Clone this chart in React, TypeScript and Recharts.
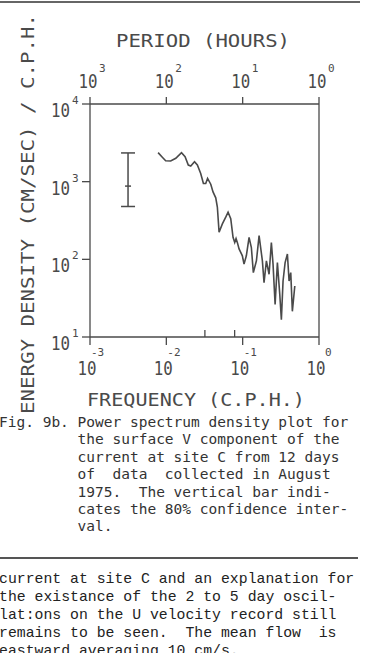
import React from 'react';
import {
    ComposedChart,
    Line,
    Scatter,
    ErrorBar,
    XAxis,
    YAxis,
} from 'recharts';

// spectrum (frequency in c.p.h., energy density)
const freq: number[] = [
    0.0078, 0.0088, 0.0098, 0.0114, 0.0133, 0.0158, 0.0176, 0.0194, 0.0209, 0.0234,
    0.0255, 0.0282, 0.0306, 0.0328, 0.0347, 0.0382, 0.0409, 0.0444, 0.0466, 0.0491,
    0.0542, 0.0600, 0.0644, 0.0698, 0.0748, 0.0787, 0.0819, 0.0853, 0.0897, 0.0991,
    0.1042, 0.1117, 0.1213, 0.1300, 0.1380, 0.1514, 0.1641, 0.1813, 0.1905, 0.2046,
    0.2218, 0.2377, 0.2500, 0.2661, 0.2851, 0.3063, 0.3214, 0.3381, 0.3597, 0.3855,
    0.4055, 0.4266, 0.4477, 0.4819,
];
const energy: number[] = [
    2366, 2080, 1862, 1845, 2000, 2366, 2099, 1638, 1589, 1808,
    1638, 1277, 948, 948, 1101, 928, 738, 620, 471, 223,
    286, 349, 405, 333, 192, 165, 185, 164, 136, 111,
    86.7, 111, 192, 142, 67.4, 95.7, 202, 95.7, 50, 95.7,
    64.3, 165, 86.7, 26.2, 90.8, 35.3, 16.7, 52.6, 90.8, 117,
    52.6, 67.4, 21.4, 45.3,
];

// 80% confidence bar
const confFreq = [0.00315];
const confMid = [877];
const confLow = [479];
const confHigh = [2344];

const decadeTicksX = [0.001, 0.01, 0.1, 1];
const decadeTicksY = [10, 100, 1000, 10000];
const markTicks = [0.032, 0.0785];

const captionLines = [
    'Fig. 9b. Power spectrum density plot for',
    '         the surface V component of the',
    '         current at site C from 12 days',
    '         of  data  collected in August',
    '         1975.  The vertical bar indi-',
    '         cates the 80% confidence inter-',
    '         val.',
];
const bodyLines = [
    'current at site C and an explanation for',
    'the existance of the 2 to 5 day oscil-',
    'lat:ons on the U velocity record still',
    'remains to be seen.  The mean flow  is',
    'eastward averaging 10 cm/s.',
];

const spectrum = freq.map((f, i) => ({ f, e: energy[i] }));
const confData = confFreq.map((f, i) => ({
    f,
    e: confMid[i],
    err: [confMid[i] - confLow[i], confHigh[i] - confMid[i]],
}));

const INK = '#4a4a4a';
const PLOT_FONT = '"DejaVu Sans Mono", monospace';

const BottomTick = (props: any) => {
    const { x, y, payload } = props;
    const exp = Math.round(Math.log10(payload.value));
    return (
        <g fill={INK} fontFamily={PLOT_FONT}>
            <text x={x - 3} y={y + 28} textAnchor="middle" fontSize={20} textLength={19} lengthAdjust="spacingAndGlyphs">10</text>
            <text x={exp < 0 ? x + 1 : x + 6} y={y + 9} fontSize={11}>{String(exp)}</text>
        </g>
    );
};

const TopTick = (props: any) => {
    const { x, y, payload } = props;
    const exp = Math.round(-Math.log10(payload.value));
    return (
        <g fill={INK} fontFamily={PLOT_FONT}>
            <text x={x - 2} y={y - 7} textAnchor="middle" fontSize={20} textLength={19} lengthAdjust="spacingAndGlyphs">10</text>
            <text x={x + 9} y={y - 23} fontSize={11}>{String(exp)}</text>
        </g>
    );
};

const LeftTick = (props: any) => {
    const { x, y, payload } = props;
    const exp = Math.round(Math.log10(payload.value));
    return (
        <g fill={INK} fontFamily={PLOT_FONT}>
            <text x={x - 10} y={y + 13} textAnchor="end" fontSize={20} textLength={19} lengthAdjust="spacingAndGlyphs">10</text>
            <text x={x - 8} y={y} fontSize={11}>{String(exp)}</text>
        </g>
    );
};

const NoLabel = () => <g />;

const MidMark = (props: any) => (
    <line x1={props.cx - 3} x2={props.cx + 3} y1={props.cy} y2={props.cy} stroke={INK} strokeWidth={1.5} />
);

export default function App() {
    return (
        <div style={{ position: 'absolute', left: 0, top: 0, width: 383, height: 653, overflow: 'hidden', background: '#fff' }}>
            <div style={{ position: 'absolute', left: 0, top: 1, width: 360, height: 2, background: '#666' }} />

            <svg width={383} height={420} style={{ position: 'absolute', left: 0, top: 0 }}>
                <text x={203} y={47} textAnchor="middle" fontFamily={PLOT_FONT} fontSize={18} fill={INK}
                    textLength={174} lengthAdjust="spacingAndGlyphs">PERIOD (HOURS)</text>
                <text x={196} y={406} textAnchor="middle" fontFamily={PLOT_FONT} fontSize={18} fill={INK}
                    textLength={218} lengthAdjust="spacingAndGlyphs">FREQUENCY (C.P.H.)</text>
                <text x={27} y={214} transform="rotate(-90 27 214)" textAnchor="middle" dominantBaseline="central"
                    fontFamily={PLOT_FONT} fontSize={18} fill={INK} textLength={400} lengthAdjust="spacingAndGlyphs">
                    ENERGY DENSITY (CM/SEC) / C.P.H.
                </text>
            </svg>

            <div style={{ position: 'absolute', left: 0, top: 0 }}>
                {/* plot box: x 90..319, y 104..336 */}
                <ComposedChart width={383} height={420} margin={{ top: 74, right: 63, bottom: 53, left: 50 }}>
                    <XAxis xAxisId="marks" dataKey="f" type="number" scale="log" domain={[0.001, 1]} allowDataOverflow
                        orientation="bottom" height={1} ticks={markTicks} interval={0} tickSize={7} mirror
                        axisLine={false} stroke={INK} strokeWidth={1.3} tick={<NoLabel />} />
                    <XAxis xAxisId="bottom" dataKey="f" type="number" scale="log" domain={[0.001, 1]} allowDataOverflow
                        orientation="bottom" height={30} ticks={decadeTicksX} interval={0} tickSize={8}
                        stroke={INK} strokeWidth={1.3} tick={<BottomTick />} />
                    <XAxis xAxisId="top" dataKey="f" type="number" scale="log" domain={[0.001, 1]} allowDataOverflow
                        orientation="top" height={30} ticks={decadeTicksX} interval={0} tickSize={7}
                        stroke={INK} strokeWidth={1.3} tick={<TopTick />} />
                    <YAxis yAxisId="left" dataKey="e" type="number" scale="log" domain={[10, 10000]} allowDataOverflow
                        width={40} ticks={decadeTicksY} interval={0} tickSize={8}
                        stroke={INK} strokeWidth={1.3} tick={<LeftTick />} />
                    <YAxis yAxisId="right" orientation="right" type="number" scale="log" domain={[10, 10000]} allowDataOverflow
                        width={1} ticks={decadeTicksY} tick={false} tickLine={false} stroke={INK} strokeWidth={1.3} />
                    <Line xAxisId="bottom" yAxisId="left" data={spectrum} dataKey="e" type="linear" dot={false}
                        stroke={INK} strokeWidth={1.6} isAnimationActive={false} />
                    <Scatter xAxisId="bottom" yAxisId="left" data={confData} dataKey="e" shape={<MidMark />}
                        isAnimationActive={false}>
                        <ErrorBar dataKey="err" direction="y" width={7} stroke={INK} strokeWidth={1.5} isAnimationActive={false} />
                    </Scatter>
                </ComposedChart>
            </div>

            {captionLines.map((t, i) => (
                <div key={'c' + i} style={{
                    position: 'absolute', left: -1, top: 413 + i * 17.4, whiteSpace: 'pre',
                    fontFamily: PLOT_FONT, fontSize: 14.5, lineHeight: '18px', color: '#333',
                }}>{t}</div>
            ))}

            <div style={{ position: 'absolute', left: 0, top: 557, width: 358, height: 2, background: '#555' }} />

            {bodyLines.map((t, i) => (
                <div key={'b' + i} style={{
                    position: 'absolute', left: -1, top: 570 + i * 18, whiteSpace: 'pre',
                    fontFamily: '"Liberation Mono", monospace', fontSize: 14.8, lineHeight: '18px', color: '#222',
                }}>{t}</div>
            ))}
        </div>
    );
}
